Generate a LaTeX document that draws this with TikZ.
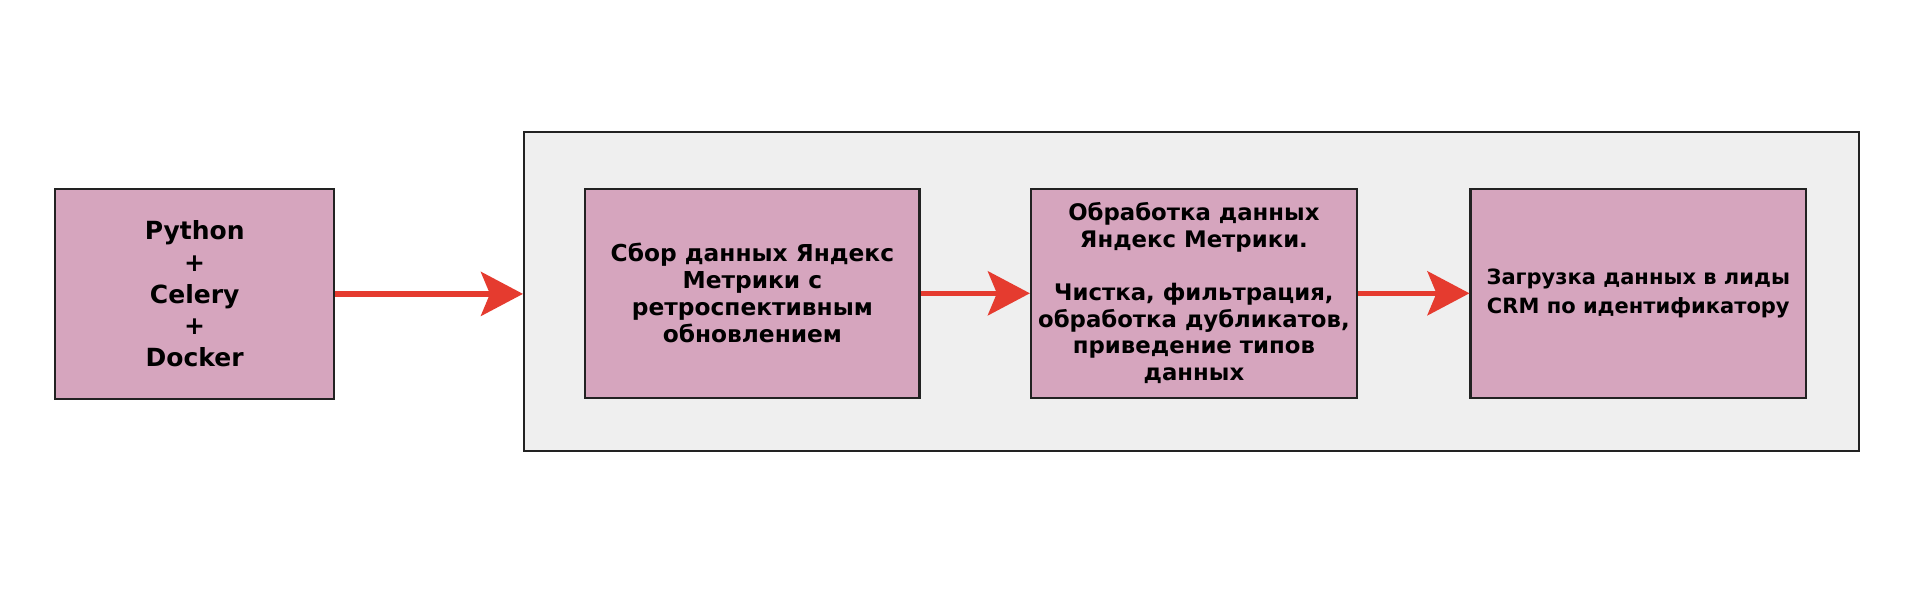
\documentclass[tikz,border=0pt]{standalone}
\usepackage{fontspec}
\setmainfont{DejaVu Sans}
\usetikzlibrary{arrows.meta}
\definecolor{boxpink}{HTML}{D6A5BE}
\definecolor{contgray}{HTML}{EFEFEF}
\definecolor{arrred}{HTML}{E53B2F}
\definecolor{edgedark}{HTML}{222222}
\tikzset{
  stagebox/.style={draw=edgedark, line width=2.2pt, fill=boxpink, rectangle,
    inner sep=0pt, align=center, font=\bfseries\fontsize{23.3}{27}\selectfont,
    minimum height=209.4pt},
  container/.style={draw=edgedark, line width=2.2pt, fill=contgray, rectangle, inner sep=0pt},
  flowarrow/.style={draw=arrred, line width=5.3pt,
    -{Stealth[length=42pt, width=44pt, inset=9pt]}},
}
\begin{document}
\begin{tikzpicture}[x=1pt, y=-1pt]
\useasboundingbox (0,0) rectangle (1920,595);
\fill[white] (0,0) rectangle (1920,595);
\node[container, minimum width=1334.7pt, minimum height=318.4pt] (cont) at (1191.4,291.4) {};
\node[stagebox, minimum width=279pt, minimum height=210.6pt,
  font=\bfseries\fontsize{25}{31.7}\selectfont] (b1) at (194.7,293.9)
  {Python\\+\\Celery\\+\\Docker};
\node[stagebox, minimum width=334.3pt] (b2) at (752.4,293.3)
  {Сбор данных Яндекс\\Метрики с\\ретроспективным\\обновлением};
\node[stagebox, minimum width=325.8pt, font=\bfseries\fontsize{22.8}{26.6}\selectfont] (b3) at (1193.9,293.3)
  {Обработка данных\\Яндекс Метрики.\\[26.6pt]Чистка, фильтрация,\\обработка дубликатов,\\приведение типов\\данных};
\node[stagebox, minimum width=335.5pt, font=\bfseries\fontsize{21}{29}\selectfont] (b4) at (1638.3,293.3)
  {Загрузка данных в лиды\\CRM по идентификатору};
\draw[flowarrow] (b1.east) -- (b1.east -| cont.west);
\draw[flowarrow] (b2.east) -- (b3.west);
\draw[flowarrow] (b3.east) -- (b4.west);
\end{tikzpicture}
\end{document}
